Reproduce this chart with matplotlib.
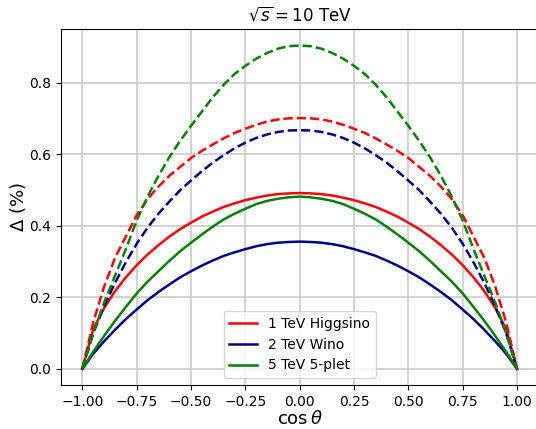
import numpy as np
import matplotlib.pyplot as plt

# cos(theta) grid
cos_theta = [-1.00, -0.95, -0.90, -0.85, -0.80, -0.75, -0.70, -0.65, -0.60, -0.55, -0.50,
             -0.45, -0.40, -0.35, -0.30, -0.25, -0.20, -0.15, -0.10, -0.05, 0.00,
             0.05, 0.10, 0.15, 0.20, 0.25, 0.30, 0.35, 0.40, 0.45, 0.50,
             0.55, 0.60, 0.65, 0.70, 0.75, 0.80, 0.85, 0.90, 0.95, 1.00]

# Delta (%), solid = one set, dashed = other set
higgsino_solid = [0.000, 0.111, 0.170, 0.217, 0.256, 0.290, 0.320, 0.346, 0.370, 0.391, 0.409,
                  0.426, 0.440, 0.453, 0.463, 0.472, 0.479, 0.485, 0.489, 0.491, 0.492,
                  0.491, 0.489, 0.485, 0.479, 0.472, 0.463, 0.453, 0.440, 0.426, 0.409,
                  0.391, 0.370, 0.346, 0.320, 0.290, 0.256, 0.217, 0.170, 0.111, 0.000]
wino_solid = [0.000, 0.042, 0.077, 0.109, 0.139, 0.166, 0.192, 0.215, 0.236, 0.256, 0.273,
              0.289, 0.303, 0.316, 0.326, 0.335, 0.343, 0.349, 0.353, 0.355, 0.356,
              0.355, 0.353, 0.349, 0.343, 0.335, 0.326, 0.316, 0.303, 0.289, 0.273,
              0.256, 0.236, 0.215, 0.192, 0.166, 0.139, 0.109, 0.077, 0.042, 0.000]
fiveplet_solid = [0.000, 0.048, 0.092, 0.134, 0.173, 0.211, 0.244, 0.273, 0.302, 0.329, 0.353,
                  0.376, 0.398, 0.418, 0.434, 0.448, 0.461, 0.470, 0.476, 0.480, 0.482,
                  0.480, 0.476, 0.470, 0.461, 0.448, 0.434, 0.418, 0.398, 0.376, 0.353,
                  0.329, 0.302, 0.273, 0.244, 0.211, 0.173, 0.134, 0.092, 0.048, 0.000]

higgsino_dashed = [0.000, 0.130, 0.230, 0.310, 0.370, 0.430, 0.475, 0.510, 0.540, 0.565, 0.590,
                   0.610, 0.628, 0.645, 0.660, 0.672, 0.683, 0.692, 0.698, 0.701, 0.702,
                   0.701, 0.698, 0.692, 0.683, 0.672, 0.660, 0.645, 0.628, 0.610, 0.590,
                   0.565, 0.540, 0.510, 0.475, 0.430, 0.370, 0.310, 0.230, 0.130, 0.000]
wino_dashed = [0.000, 0.100, 0.175, 0.240, 0.298, 0.350, 0.395, 0.434, 0.468, 0.500, 0.527,
               0.553, 0.577, 0.598, 0.617, 0.633, 0.646, 0.656, 0.663, 0.667, 0.668,
               0.667, 0.663, 0.656, 0.646, 0.633, 0.617, 0.598, 0.577, 0.553, 0.527,
               0.500, 0.468, 0.434, 0.395, 0.350, 0.298, 0.240, 0.175, 0.100, 0.000]
fiveplet_dashed = [0.000, 0.100, 0.185, 0.260, 0.335, 0.415, 0.482, 0.540, 0.592, 0.638, 0.680,
                   0.720, 0.760, 0.795, 0.825, 0.848, 0.868, 0.884, 0.896, 0.903, 0.905,
                   0.903, 0.896, 0.884, 0.868, 0.848, 0.825, 0.795, 0.760, 0.720, 0.680,
                   0.638, 0.592, 0.540, 0.482, 0.415, 0.335, 0.260, 0.185, 0.100, 0.000]

fig = plt.figure(figsize=(5.36, 4.29), dpi=100)
# axes run slightly past the right edge of the figure, as in the cropped original
ax = fig.add_axes([0.1131, 0.1026, 0.8920, 0.8291])
ax.spines['right'].set_visible(False)

ax.plot(cos_theta, higgsino_solid, color='red', lw=1.8, label='1 TeV Higgsino')
ax.plot(cos_theta, wino_solid, color='darkblue', lw=1.8, label='2 TeV Wino')
ax.plot(cos_theta, fiveplet_solid, color='green', lw=1.8, label='5 TeV 5-plet')
ax.plot(cos_theta, higgsino_dashed, color='red', lw=1.8, ls='--')
ax.plot(cos_theta, wino_dashed, color='darkblue', lw=1.8, ls='--')
ax.plot(cos_theta, fiveplet_dashed, color='green', lw=1.8, ls='--')

ax.set_xlim(-1.1, 1.1)
ax.set_xticks([-1.0, -0.75, -0.5, -0.25, 0.0, 0.25, 0.5, 0.75, 1.0])
ax.set_yticks([0.0, 0.2, 0.4, 0.6, 0.8])
ax.tick_params(labelsize=10)
ax.grid(True, color='#cccccc', linewidth=1.2)

ax.set_title(r'$\sqrt{s} = 10$ TeV', fontsize=12)
ax.set_xlabel(r'$\cos\theta$', fontsize=13, labelpad=1)
ax.set_ylabel(r'$\Delta$ (%)', fontsize=13, labelpad=1)
ax.legend(loc='lower center', fontsize=10)

fig.savefig('out.png', dpi=100)
